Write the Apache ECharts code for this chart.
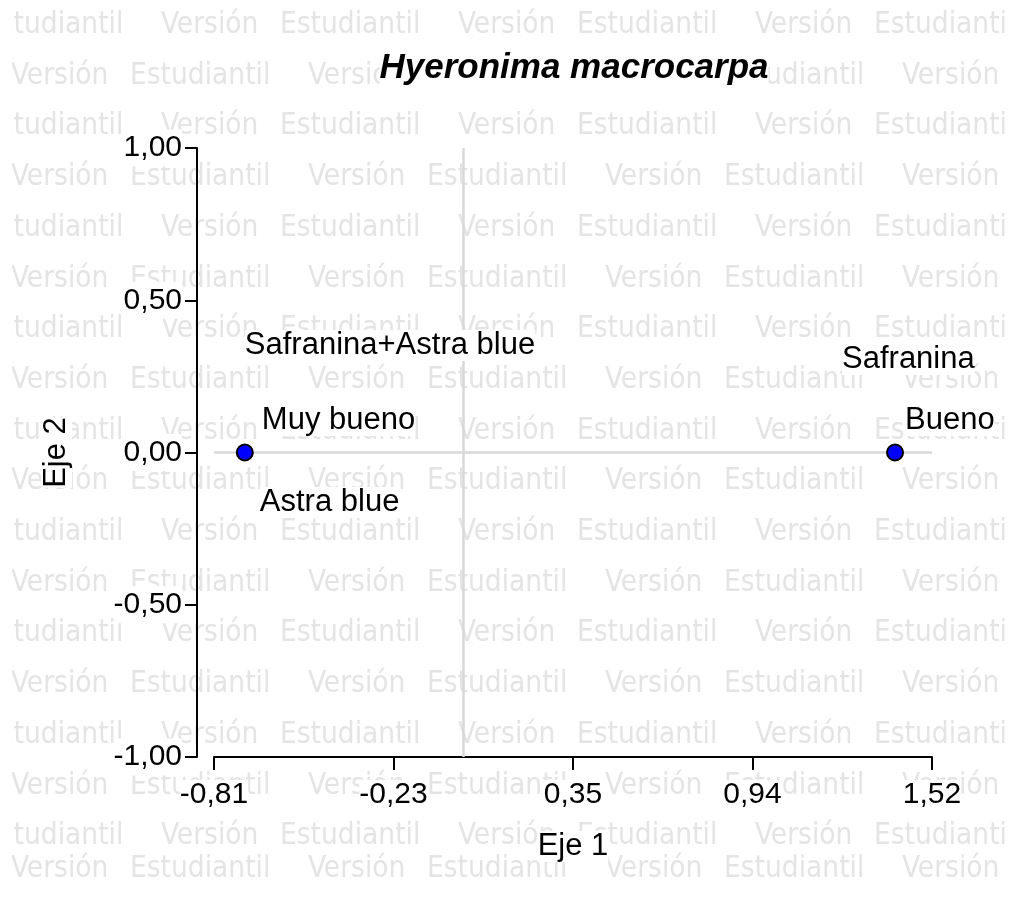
<!DOCTYPE html>
<html>
<head>
<meta charset="utf-8">
<script src="https://cdn.jsdelivr.net/npm/echarts@6/dist/echarts.min.js"></script>
<style>
  html, body { margin: 0; padding: 0; background: #fff; }
  #chart { width: 1021px; height: 901px; }
</style>
</head>
<body>
<div id="chart"></div>
<script>
// column points (drawn) and row points (labels only)
var colNames = ['Muy bueno', 'Bueno'];
var colX = [-0.71, 1.40];
var colY = [0.00, 0.00];
var rowNames = ['Safranina+Astra blue', 'Astra blue', 'Safranina'];
var rowX = [-0.71, -0.71, 1.40];
var rowY = [0.00, 0.00, 0.00];

var xMin = -0.81, xMax = 1.52;
var xTickLabels = ['-0,81', '-0,23', '0,35', '0,94', '1,52'];
var yTickLabels = ['-1,00', '-0,50', '0,00', '0,50', '1,00'];

// where each label sits relative to its point (px)
var labelOffset = {
  'Muy bueno': [17, -32],
  'Bueno': [10, -32],
  'Safranina+Astra blue': [0, -107],
  'Astra blue': [15, 50],
  'Safranina': [-53, -93]
};

var FONT = '"Liberation Sans", Arial, sans-serif';
var xStep = (xMax - xMin) / (xTickLabels.length - 1);

function pts(names, xs, ys) {
  return names.map(function (n, i) {
    return {
      name: n,
      value: [xs[i], ys[i]],
      label: { offset: labelOffset[n] }
    };
  });
}

// "Versión Estudiantil" watermark
var wm = [];
var WMFONT = '"DejaVu Sans Condensed", "DejaVu Sans"';
for (var r = 0; r < 18; r++) {
  var base = r < 17 ? 36 + 50.7 * r : 880;
  var start = (r % 2 === 0) ? 161 : 11;
  for (var k = -1; k < 4; k++) {
    var vx = start + k * 297;
    wm.push({ type: 'text', z: -10, silent: true, x: vx, y: base - 10.6,
      style: { text: 'Versión', fill: '#e4e4e4', fontSize: 29.5, fontFamily: WMFONT, verticalAlign: 'middle' } });
    wm.push({ type: 'text', z: -10, silent: true, x: vx + 119, y: base - 10.6,
      style: { text: 'Estudiantil', fill: '#e4e4e4', fontSize: 29.5, fontFamily: WMFONT, verticalAlign: 'middle' } });
  }
}
// watermark margins
wm.push({ type: 'rect', z: -9, silent: true, shape: { x: 0, y: 0, width: 12, height: 901 }, style: { fill: '#fff' } });
wm.push({ type: 'rect', z: -9, silent: true, shape: { x: 1009, y: 0, width: 12, height: 901 }, style: { fill: '#fff' } });

var labelStyle = {
  show: true, position: 'inside', align: 'left', verticalAlign: 'middle', opacity: 1,
  formatter: '{b}', fontFamily: FONT, fontSize: 31, color: '#000',
  textBorderWidth: 0, textBorderColor: 'transparent', backgroundColor: '#fff'
};

var myChart = echarts.init(document.getElementById('chart'));
var option = {
  backgroundColor: '#fff',
  animation: false,
  graphic: wm,
  title: {
    text: 'Hyeronima macrocarpa',
    left: 574,
    top: 51,
    textAlign: 'center',
    padding: 0,
    backgroundColor: '#fff',
    textStyle: { fontFamily: FONT, fontSize: 35, fontWeight: 'bold', fontStyle: 'italic', color: '#000' }
  },
  grid: { left: 214, right: 89, top: 148, bottom: 144 },
  xAxis: {
    type: 'value',
    min: xMin,
    max: xMax,
    interval: xStep,
    name: 'Eje 1',
    nameLocation: 'middle',
    nameGap: 74,
    nameTextStyle: { fontFamily: FONT, fontSize: 31, color: '#000', backgroundColor: '#fff' },
    splitLine: { show: false },
    axisLine: { onZero: false, lineStyle: { color: '#000', width: 2 } },
    axisTick: { length: 13, lineStyle: { color: '#000', width: 2 } },
    axisLabel: {
      margin: 23,
      fontFamily: FONT, fontSize: 30, color: '#000', backgroundColor: '#fff',
      formatter: function (v) {
        var i = Math.round((v - xMin) / xStep);
        return xTickLabels[i] !== undefined ? xTickLabels[i] : '';
      }
    }
  },
  yAxis: {
    type: 'value',
    min: -1,
    max: 1,
    interval: 0.5,
    offset: 17,
    name: 'Eje 2',
    nameLocation: 'middle',
    nameGap: 125,
    nameRotate: 90,
    nameTextStyle: { fontFamily: FONT, fontSize: 31, color: '#000', backgroundColor: '#fff' },
    splitLine: { show: false },
    axisLine: { show: true, onZero: false, lineStyle: { color: '#000', width: 2 } },
    axisTick: { show: true, length: 12, lineStyle: { color: '#000', width: 2 } },
    axisLabel: {
      margin: 15,
      padding: [7, 0, 0, 0],
      fontFamily: FONT, fontSize: 30, color: '#000', backgroundColor: '#fff',
      formatter: function (v) {
        var i = Math.round((v + 1) / 0.5);
        return yTickLabels[i] !== undefined ? yTickLabels[i] : '';
      }
    }
  },
  series: [
    {
      name: 'ejes',
      type: 'scatter',
      data: [],
      z: 1,
      markLine: {
        silent: true,
        symbol: 'none',
        z: 1,
        label: { show: false },
        lineStyle: { color: '#d8d8d8', width: 2.5, type: 'solid' },
        data: [{ xAxis: 0 }, { yAxis: 0 }]
      }
    },
    {
      name: 'filas',
      type: 'scatter',
      symbolSize: 1,
      itemStyle: { color: 'rgba(255,255,255,0)' },
      data: pts(rowNames, rowX, rowY),
      label: labelStyle,
      z: 3
    },
    {
      name: 'columnas',
      type: 'scatter',
      symbol: 'circle',
      symbolSize: 16,
      itemStyle: { color: '#0000ff', borderColor: '#000', borderWidth: 2, opacity: 1 },
      data: pts(colNames, colX, colY),
      label: labelStyle,
      z: 5
    }
  ]
};
myChart.setOption(option);
</script>
</body>
</html>
